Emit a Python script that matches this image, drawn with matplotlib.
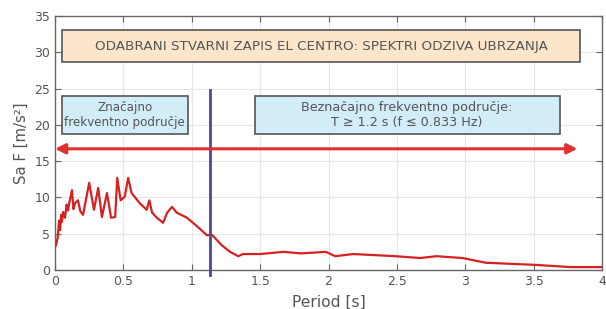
import matplotlib
matplotlib.use("Agg")
import matplotlib.pyplot as plt
from matplotlib.patches import Rectangle

period = [0.007, 0.02, 0.03, 0.037, 0.045, 0.05, 0.06, 0.073, 0.085, 0.095, 0.105,
          0.124, 0.135, 0.146, 0.168, 0.185, 0.205, 0.25, 0.285,
          0.316, 0.343, 0.38, 0.41, 0.44, 0.455, 0.48, 0.51, 0.535, 0.56, 0.62, 0.67,
          0.69, 0.71, 0.745, 0.79, 0.82, 0.855, 0.89, 0.965, 1.04, 1.11, 1.15, 1.22,
          1.28, 1.34, 1.375, 1.5, 1.67, 1.79, 1.81, 1.98, 2.05, 2.18, 2.49, 2.67,
          2.79, 2.98, 3.15, 3.52, 3.77, 4.0]
sa = [3.4, 4.5, 6.8, 5.5, 7.6, 6.6, 8.0, 7.2, 9.0, 8.2, 9.3,
      11.0, 8.4, 9.2, 9.6, 8.1, 7.6, 12.0, 8.3,
      11.3, 7.3, 10.6, 7.2, 7.3, 12.7, 9.6, 10.1, 12.7, 10.6, 9.2, 8.3,
      9.6, 7.9, 7.2, 6.5, 7.9, 8.7, 7.9, 7.2, 6.0, 4.8, 4.8, 3.4,
      2.5, 1.9, 2.2, 2.2, 2.5, 2.3, 2.3, 2.5, 1.9, 2.2, 1.9, 1.65,
      1.9, 1.65, 1.0, 0.7, 0.4, 0.4]

x_ticks = [0, 0.5, 1, 1.5, 2, 2.5, 3, 3.5, 4]
x_tick_labels = ["0", "0.5", "1", "1.5", "2", "2.5", "3", "3.5", "4"]
y_ticks = [0, 5, 10, 15, 20, 25, 30, 35]

title_text = "ODABRANI STVARNI ZAPIS EL CENTRO: SPEKTRI ODZIVA UBRZANJA"
left_text = "Značajno\nfrekventno područje"
right_text = "Beznačajno frekventno područje:\nT ≥ 1.2 s (f ≤ 0.833 Hz)"
boundary_T = 1.13
arrow_y = 16.7
arrow_x_end = 3.82

fig = plt.figure(figsize=(6.06, 3.09), dpi=100)
ax = fig.add_axes([55/606, 1-270/309, (602-55)/606, (270-16)/309])
ax.set_xlim(0, 4)
ax.set_ylim(0, 35)

gray = "#666666"
txt = "#555555"
ax.set_xticks(x_ticks)
ax.set_xticklabels(x_tick_labels)
ax.set_yticks(y_ticks)
ax.tick_params(direction="in", top=True, right=True, length=4, color=gray,
               labelcolor=txt, labelsize=9)
for s in ax.spines.values():
    s.set_color(gray)
    s.set_linewidth(1.0)
ax.grid(True, color="#e6e6e6", linewidth=0.8)
ax.set_axisbelow(True)

ax.plot(period, sa, color="#d42222", linewidth=1.6, zorder=3)

ax.plot([boundary_T, boundary_T], [-0.7, 24.8], color="#4a4a9c", linewidth=2.0,
        clip_on=False, zorder=4)

ax.annotate("", xy=(arrow_x_end, arrow_y), xytext=(0.0, arrow_y),
            arrowprops=dict(arrowstyle="<|-|>,head_length=0.6,head_width=0.3",
                            color="#e03030", linewidth=2.2, shrinkA=0, shrinkB=0),
            annotation_clip=False, zorder=5)

def box(x0, x1, y0, y1, fc, text, size):
    ax.add_patch(Rectangle((x0, y0), x1 - x0, y1 - y0, facecolor=fc,
                           edgecolor="#555555", linewidth=1.2, zorder=4))
    ax.text((x0 + x1) / 2, (y0 + y1) / 2, text, ha="center", va="center",
            fontsize=size, color="#555555", zorder=5, linespacing=1.2)

box(0.05, 3.84, 28.6, 33.1, "#fbe6cc", title_text, 9.7)
box(0.05, 0.97, 18.7, 24.0, "#d2ecf8", left_text, 8.6)
box(1.46, 3.69, 18.7, 24.0, "#d2ecf8", right_text, 9.2)

ax.set_xlabel("Period [s]", color=txt, fontsize=11.2, labelpad=5)
ax.set_ylabel("Sa F [m/s²]", color=txt, fontsize=10.7, labelpad=4)

fig.savefig("out.png", dpi=100)
